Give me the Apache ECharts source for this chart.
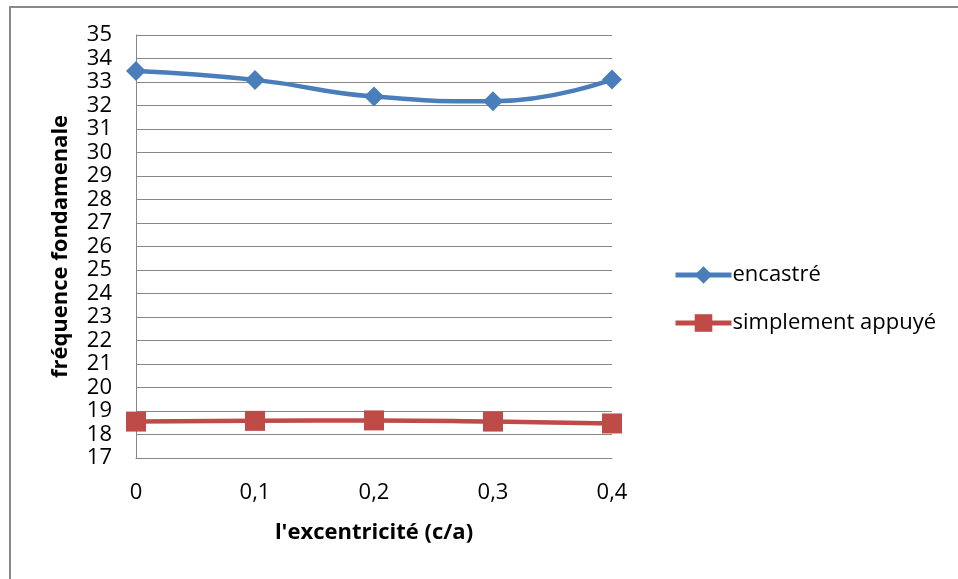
<!DOCTYPE html>
<html>
<head>
<meta charset="utf-8">
<script src="https://cdn.jsdelivr.net/npm/echarts@6/dist/echarts.min.js"></script>
<style>
  html, body { margin: 0; padding: 0; background: #ffffff; }
  #chart { width: 958px; height: 579px; }
</style>
</head>
<body>
<div id="chart"></div>
<script>
// Eccentricity ratios (c/a) along the x axis
const categories = ['0', '0,1', '0,2', '0,3', '0,4'];
// Fundamental frequency, clamped plate
const encastre = [33.47, 33.09, 32.38, 32.18, 33.11];
// Fundamental frequency, simply supported plate
const simplementAppuye = [18.55, 18.58, 18.60, 18.55, 18.47];

const FONT = 'Open Sans';
const BLUE = '#4A7EBB';
const RED = '#BE4B48';
const GRID = '#878787';

const chart = echarts.init(document.getElementById('chart'), null, { renderer: 'canvas' });

chart.setOption({
  backgroundColor: '#ffffff',
  animation: false,
  textStyle: { fontFamily: FONT, color: '#000000' },
  graphic: [{
    type: 'rect',
    silent: true,
    shape: { x: 10, y: 7, width: 980, height: 620 },
    style: { fill: 'none', stroke: '#898989', lineWidth: 2 }
  }],
  grid: { left: 136, top: 35, right: 346, bottom: 121, containLabel: false },
  legend: {
    orient: 'vertical',
    left: 668,
    top: 259,
    itemWidth: 56,
    itemHeight: 22,
    itemGap: 26,
    lineStyle: { width: 5 },
    textStyle: { fontFamily: FONT, fontSize: 22, color: '#000000', padding: [0, 0, 0, -4] },
    data: ['encastré', 'simplement appuyé']
  },
  xAxis: {
    type: 'category',
    data: categories,
    boundaryGap: false,
    name: "l'excentricité (c/a)",
    nameLocation: 'middle',
    nameGap: 64,
    nameTextStyle: { fontFamily: FONT, fontSize: 22, fontWeight: 'bold', color: '#000000' },
    axisLine: { show: true, lineStyle: { color: GRID, width: 1 } },
    axisTick: { show: false },
    axisLabel: { fontFamily: FONT, fontSize: 22, color: '#000000', margin: 24 },
    splitLine: { show: false }
  },
  yAxis: {
    type: 'value',
    min: 17,
    max: 35,
    interval: 1,
    name: 'fréquence fondamenale',
    nameLocation: 'middle',
    nameGap: 64,
    nameTextStyle: { fontFamily: FONT, fontSize: 22, fontWeight: 'bold', color: '#000000' },
    axisLine: { show: true, lineStyle: { color: GRID, width: 1 } },
    axisTick: { show: false },
    axisLabel: { fontFamily: FONT, fontSize: 22, color: '#000000', margin: 24 },
    splitLine: { show: true, lineStyle: { color: GRID, width: 1 } }
  },
  series: [
    {
      name: 'encastré',
      type: 'line',
      data: encastre,
      smooth: 0.5,
      symbol: 'diamond',
      symbolSize: 20,
      lineStyle: { color: BLUE, width: 4.5 },
      itemStyle: { color: BLUE },
      z: 3
    },
    {
      name: 'simplement appuyé',
      type: 'line',
      data: simplementAppuye,
      smooth: 0.5,
      symbol: 'rect',
      symbolSize: 20,
      lineStyle: { color: RED, width: 4.5 },
      itemStyle: { color: RED },
      z: 2
    }
  ]
});
</script>
</body>
</html>
